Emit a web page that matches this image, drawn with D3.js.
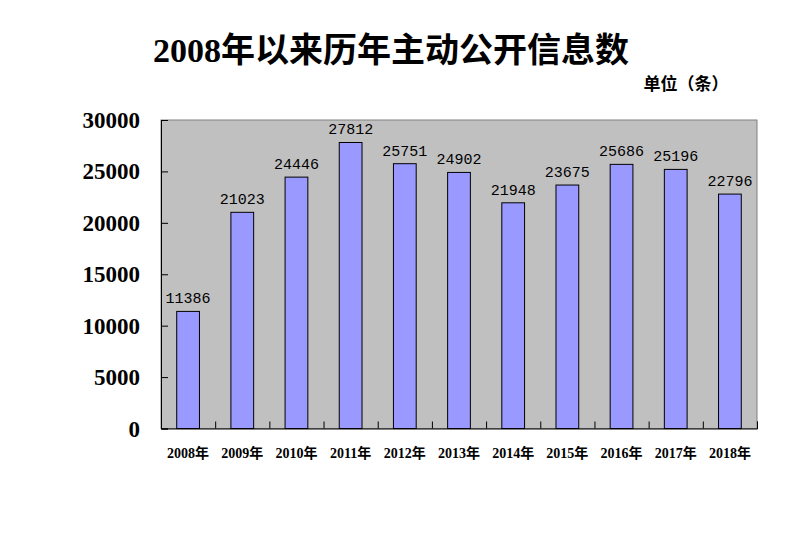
<!DOCTYPE html>
<html><head><meta charset="utf-8">
<script src="https://cdn.jsdelivr.net/npm/d3@7"></script>
<style>body{margin:0;background:#fff}</style>
</head><body>
<script>
const categories = ["2008年","2009年","2010年","2011年","2012年","2013年","2014年","2015年","2016年","2017年","2018年"];
const values = [11386,21023,24446,27812,25751,24902,21948,23675,25686,25196,22796];
const yTicks = [0,5000,10000,15000,20000,25000,30000];
const title = "2008年以来历年主动公开信息数";
const unitLabel = "单位（条）";

const W = 786, H = 536;
const m = {left:161, top:120, right:757, bottom:428.5};
const svg = d3.select("body").append("svg").attr("width",W).attr("height",H);
const serif = "'Liberation Serif','DejaVu Serif','Noto Sans CJK SC',serif";

const x = d3.scaleBand().domain(categories).range([m.left,m.right]).paddingInner(0).paddingOuter(0);
const y = d3.scaleLinear().domain([0,30000]).range([m.bottom,m.top]);

svg.append("rect").attr("x",m.left).attr("y",m.top).attr("width",m.right-m.left).attr("height",m.bottom-m.top)
  .attr("fill","#c0c0c0").attr("stroke","#808080").attr("stroke-width",1);

const bw = x.bandwidth()*0.42;
svg.selectAll(".bar").data(values).enter().append("rect")
  .attr("x",(d,i)=>x(categories[i])+x.bandwidth()/2-bw/2)
  .attr("y",d=>y(d)).attr("width",bw).attr("height",d=>m.bottom-y(d))
  .attr("fill","#9999ff").attr("stroke","#000").attr("stroke-width",1);

svg.selectAll(".vl").data(values).enter().append("text")
  .attr("x",(d,i)=>x(categories[i])+x.bandwidth()/2)
  .attr("y",d=>y(d)-8)
  .attr("text-anchor","middle").attr("font-family","'Liberation Mono','DejaVu Sans Mono',monospace")
  .attr("font-size",15).attr("fill","#000").text(d=>d);

const yAxis = d3.axisRight(y).tickValues(yTicks).tickSize(7).tickFormat("");
const ga = svg.append("g").attr("transform",`translate(${m.left},0)`).call(yAxis);
ga.select(".domain").attr("stroke","#000");
ga.selectAll(".tick line").attr("stroke","#000");
svg.selectAll(".ylab").data(yTicks).enter().append("text")
  .attr("x",140).attr("y",d=>y(d)+8).attr("text-anchor","end")
  .attr("font-family",serif).attr("font-weight","bold").attr("font-size",23).text(d=>d);

const xAxis = d3.axisTop(d3.scaleLinear().domain([0,categories.length]).range([m.left,m.right]))
  .tickValues(d3.range(0,categories.length+1)).tickSize(7).tickFormat("");
const gx = svg.append("g").attr("transform",`translate(0,${m.bottom})`).call(xAxis);
gx.select(".domain").attr("stroke","#000");
gx.selectAll(".tick line").attr("stroke","#000");
svg.selectAll(".xlab").data(categories).enter().append("text")
  .attr("x",d=>x(d)+x.bandwidth()/2).attr("y",458).attr("text-anchor","middle")
  .attr("font-family",serif).attr("font-weight","bold").attr("font-size",14).text(d=>d);

svg.append("text").attr("x",391).attr("y",62).attr("text-anchor","middle")
  .attr("font-family",serif).attr("font-weight","bold").attr("font-size",34).attr("fill","#000").text(title);
svg.append("text").attr("x",686).attr("y",90).attr("text-anchor","middle")
  .attr("font-family",serif).attr("font-weight","bold").attr("font-size",17).text(unitLabel);
</script>
</body></html>
